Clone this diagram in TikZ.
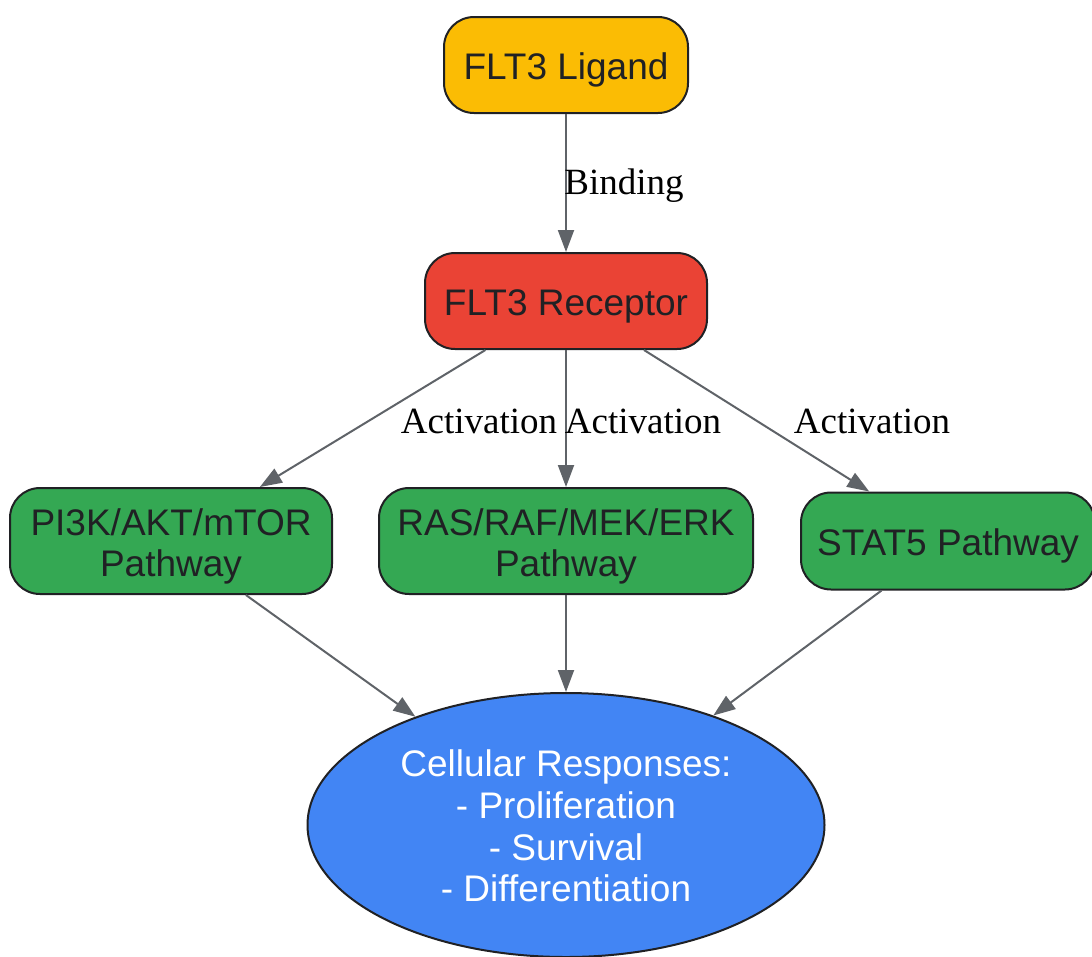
\documentclass[tikz,border=0pt]{standalone}
\usepackage{fontspec}
\setmainfont{Liberation Serif}
\newfontfamily\nodefont{Liberation Sans}
\usetikzlibrary{shapes.geometric,arrows.meta}
\definecolor{cYel}{HTML}{FBBC04}
\definecolor{cRed}{HTML}{EA4335}
\definecolor{cGrn}{HTML}{34A853}
\definecolor{cBlu}{HTML}{4285F4}
\definecolor{cTxt}{HTML}{202124}
\definecolor{cEdge}{HTML}{5F6368}
\begin{document}
\begin{tikzpicture}[x=1pt,y=-1pt,
  box/.style={draw=cTxt, line width=2pt, rounded corners=30pt, inner sep=0pt,
    text=cTxt, align=center, font=\nodefont\fontsize{37}{41.6}\selectfont},
  one/.style={text height=36.6pt, text depth=8pt},
  two/.style={text height=79.2pt, text depth=8pt},
  oval/.style={ellipse, draw=cTxt, line width=2pt, fill=cBlu, inner sep=0pt,
    text=white, align=center, font=\nodefont\fontsize{37}{41.6}\selectfont,
    text height=161.4pt, text depth=8pt},
  edge/.style={draw=cEdge, line width=2pt, -{Triangle[length=22pt,width=16pt]}},
  lbl/.style={font=\fontsize{37}{42}\selectfont, text=black, inner sep=0pt}]
\useasboundingbox (0,0) rectangle (1092,956);
\begin{scope}
\clip (0,0) rectangle (1092,956);
\node[box, one, fill=cYel, minimum width=244pt, minimum height=96pt] (lig) at (566,65) {FLT3 Ligand};
\node[box, one, fill=cRed, minimum width=282pt, minimum height=96pt] (rec) at (566,301) {FLT3 Receptor};
\node[box, two, fill=cGrn, minimum width=322pt, minimum height=106pt] (pi3k) at (171,541) {PI3K/AKT/mTOR\\Pathway};
\node[box, two, fill=cGrn, minimum width=374pt, minimum height=106pt] (ras) at (566,541) {RAS/RAF/MEK/ERK\\Pathway};
\node[box, one, fill=cGrn, minimum width=294pt, minimum height=97pt] (stat) at (948,541) {STAT5 Pathway};
\node[oval, minimum width=517pt, minimum height=264pt] (cell) at (566,825) {Cellular Responses:\\- Proliferation\\- Survival\\- Differentiation};
\end{scope}
\draw[edge] (lig) -- (rec);
\node[lbl] (lb1) at (624,186) {Binding};
\draw[edge] (rec) -- (pi3k);
\node[lbl] (lb2) at (479,421) {Activation};
\draw[edge] (rec) -- (ras);
\node[lbl] (lb3) at (643,421) {Activation};
\draw[edge] (rec) -- (stat);
\node[lbl] (lb4) at (872,421) {Activation};
\draw[edge] (pi3k) -- (cell);
\draw[edge] (ras) -- (cell);
\draw[edge] (stat) -- (cell);
\end{tikzpicture}
\end{document}
